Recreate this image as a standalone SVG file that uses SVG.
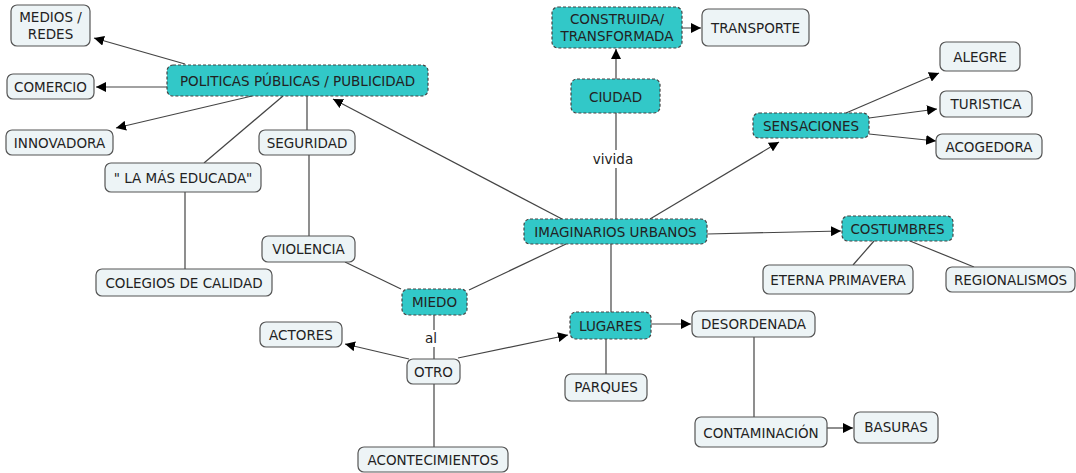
<svg xmlns="http://www.w3.org/2000/svg" width="1076" height="473" viewBox="0 0 1076 473">
<style>
  .n rect { fill: #edf4f6; stroke: #555; stroke-width: 1.2; }
  .t rect { fill: #32c8c8; stroke: #444; stroke-width: 1.2; stroke-dasharray: 3 2; }
  text { font-family: "DejaVu Sans", Verdana, sans-serif; font-size: 13.5px; fill: #222; text-anchor: middle; dominant-baseline: central; }
  .c line, .c path { stroke: #444; stroke-width: 1.2; fill: none; }
  .lbl { font-size: 13.5px; }
</style>
<defs>
  <marker id="ar" viewBox="0 0 10 10" refX="10" refY="5" markerWidth="10" markerHeight="10" markerUnits="userSpaceOnUse" orient="auto">
    <path d="M0,0 L10,5 L0,10 z" fill="#000"/>
  </marker>
</defs>
<rect width="1076" height="473" fill="#fff"/>
<g class="c" id="connectors">
  <line x1="185" y1="64" x2="94" y2="38" marker-end="url(#ar)"/>
  <line x1="167" y1="87" x2="96" y2="87" marker-end="url(#ar)"/>
  <line x1="252" y1="96" x2="116" y2="128" marker-end="url(#ar)"/>
  <line x1="283" y1="96" x2="204" y2="163"/>
  <line x1="307" y1="96" x2="307" y2="130"/>
  <line x1="185" y1="192" x2="185" y2="269"/>
  <line x1="309" y1="155" x2="309" y2="236"/>
  <line x1="345" y1="262" x2="401" y2="289"/>
  <line x1="566" y1="244" x2="469" y2="290"/>
  <line x1="562" y1="219" x2="333" y2="99" marker-end="url(#ar)"/>
  <line x1="616" y1="219" x2="616" y2="168"/>
  <line x1="616" y1="150" x2="616" y2="113"/>
  <line x1="616" y1="79" x2="616" y2="49" marker-end="url(#ar)"/>
  <line x1="666" y1="28" x2="701" y2="28" marker-end="url(#ar)"/>
  <line x1="650" y1="219" x2="779" y2="142" marker-end="url(#ar)"/>
  <line x1="846" y1="113" x2="939" y2="73" marker-end="url(#ar)"/>
  <line x1="869" y1="118" x2="937" y2="109" marker-end="url(#ar)"/>
  <line x1="869" y1="134" x2="936" y2="141" marker-end="url(#ar)"/>
  <line x1="707" y1="234" x2="841" y2="231" marker-end="url(#ar)"/>
  <line x1="874" y1="241" x2="853" y2="265"/>
  <line x1="910" y1="241" x2="974" y2="267"/>
  <line x1="611" y1="244" x2="611" y2="312"/>
  <line x1="651" y1="324" x2="691" y2="324" marker-end="url(#ar)"/>
  <line x1="606" y1="339" x2="606" y2="374"/>
  <line x1="754" y1="337" x2="754" y2="417"/>
  <line x1="827" y1="428" x2="853" y2="428" marker-end="url(#ar)"/>
  <line x1="434" y1="315" x2="434" y2="330"/>
  <line x1="434" y1="347" x2="434" y2="359"/>
  <line x1="409" y1="359" x2="345" y2="344" marker-end="url(#ar)"/>
  <line x1="458" y1="358" x2="568" y2="335" marker-end="url(#ar)"/>
  <line x1="434" y1="384" x2="434" y2="447"/>
  <text class="lbl" x="613" y="159">vivida</text>
  <text class="lbl" x="431" y="338">al</text>
</g>
<g id="medios" class="n"><rect x="11" y="5" width="79" height="41" rx="6"/><text x="50.5" y="17">MEDIOS /</text><text x="50.5" y="34">REDES</text></g>
<g id="comercio" class="n"><rect x="7" y="74" width="87" height="25" rx="6"/><text x="50.5" y="87">COMERCIO</text></g>
<g id="politicas" class="t"><rect x="167" y="65" width="261" height="31" rx="6"/><text x="297.5" y="81">POLITICAS PÚBLICAS / PUBLICIDAD</text></g>
<g id="innovadora" class="n"><rect x="6" y="130" width="107" height="25" rx="6"/><text x="59.5" y="143">INNOVADORA</text></g>
<g id="seguridad" class="n"><rect x="259" y="130" width="96" height="25" rx="6"/><text x="307" y="143">SEGURIDAD</text></g>
<g id="educada" class="n"><rect x="105" y="163" width="156" height="29" rx="6"/><text x="183" y="178">" LA MÁS EDUCADA"</text></g>
<g id="colegios" class="n"><rect x="96" y="269" width="176" height="27" rx="6"/><text x="184" y="283">COLEGIOS DE CALIDAD</text></g>
<g id="violencia" class="n"><rect x="262" y="236" width="93" height="26" rx="6"/><text x="308.5" y="249">VIOLENCIA</text></g>
<g id="miedo" class="t"><rect x="402" y="289" width="65" height="26" rx="6"/><text x="434.5" y="302">MIEDO</text></g>
<g id="actores" class="n"><rect x="260" y="322" width="82" height="25" rx="6"/><text x="301" y="335">ACTORES</text></g>
<g id="otro" class="n"><rect x="407" y="359" width="53" height="25" rx="6"/><text x="433.5" y="372">OTRO</text></g>
<g id="acontecimientos" class="n"><rect x="358" y="447" width="150" height="25" rx="6"/><text x="433" y="460">ACONTECIMIENTOS</text></g>
<g id="imaginarios" class="t"><rect x="524" y="219" width="183" height="25" rx="6"/><text x="615.5" y="232">IMAGINARIOS URBANOS</text></g>
<g id="ciudad" class="t"><rect x="571" y="79" width="89" height="34" rx="6"/><text x="615.5" y="97">CIUDAD</text></g>
<g id="construida" class="t"><rect x="552" y="7" width="130" height="41" rx="6"/><text x="617" y="19">CONSTRUIDA/</text><text x="617" y="36">TRANSFORMADA</text></g>
<g id="transporte" class="n"><rect x="702" y="9" width="107" height="37" rx="6"/><text x="755.5" y="28">TRANSPORTE</text></g>
<g id="sensaciones" class="t"><rect x="753" y="113" width="116" height="25" rx="6"/><text x="811" y="126">SENSACIONES</text></g>
<g id="alegre" class="n"><rect x="940" y="42" width="80" height="29" rx="6"/><text x="980" y="57">ALEGRE</text></g>
<g id="turistica" class="n"><rect x="940" y="91" width="92" height="26" rx="6"/><text x="986" y="104">TURISTICA</text></g>
<g id="acogedora" class="n"><rect x="936" y="134" width="106" height="25" rx="6"/><text x="989" y="147">ACOGEDORA</text></g>
<g id="costumbres" class="t"><rect x="842" y="216" width="111" height="25" rx="6"/><text x="897.5" y="229">COSTUMBRES</text></g>
<g id="eterna" class="n"><rect x="763" y="265" width="150" height="29" rx="6"/><text x="838" y="280">ETERNA PRIMAVERA</text></g>
<g id="regionalismos" class="n"><rect x="946" y="267" width="129" height="25" rx="6"/><text x="1010.5" y="280">REGIONALISMOS</text></g>
<g id="lugares" class="t"><rect x="570" y="312" width="81" height="27" rx="6"/><text x="610.5" y="326">LUGARES</text></g>
<g id="parques" class="n"><rect x="565" y="374" width="82" height="27" rx="6"/><text x="606" y="387">PARQUES</text></g>
<g id="desordenada" class="n"><rect x="692" y="311" width="123" height="26" rx="6"/><text x="753.5" y="324">DESORDENADA</text></g>
<g id="contaminacion" class="n"><rect x="695" y="417" width="132" height="30" rx="6"/><text x="761" y="433">CONTAMINACIÓN</text></g>
<g id="basuras" class="n"><rect x="854" y="412" width="84" height="31" rx="6"/><text x="896" y="427">BASURAS</text></g>
</svg>
